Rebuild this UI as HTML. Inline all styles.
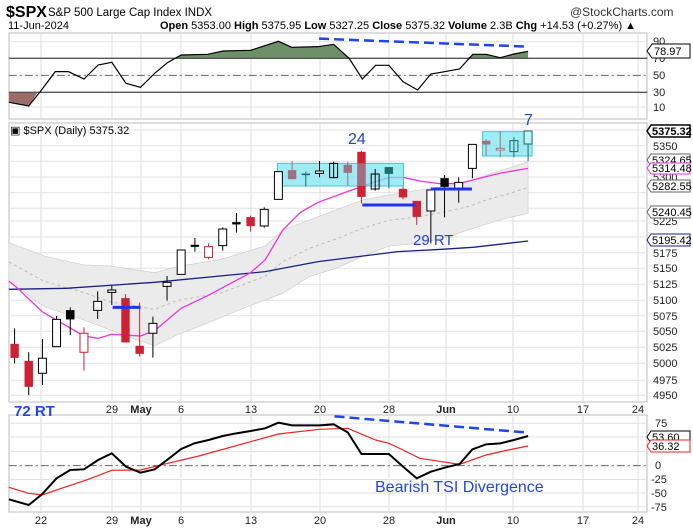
<!DOCTYPE html>
<html><head><meta charset="utf-8"><style>
body{margin:0;background:#fff;}
svg{display:block;font-family:"Liberation Sans",sans-serif;}
</style></head><body>
<svg width="693" height="530" viewBox="0 0 693 530" xmlns="http://www.w3.org/2000/svg">
<rect width="693" height="530" fill="#fff"/>
<!-- header -->
<text x="6" y="17" font-size="16" font-weight="bold">$SPX</text>
<text x="48" y="16" font-size="11.5">S&amp;P 500 Large Cap Index  INDX</text>
<text x="570" y="16" font-size="12" fill="#333">@StockCharts.com</text>
<text x="8" y="29" font-size="11">11-Jun-2024</text>
<text x="160" y="29" font-size="11"><tspan font-weight="bold">Open</tspan> 5353.00 <tspan font-weight="bold">High</tspan> 5375.95 <tspan font-weight="bold">Low</tspan> 5327.25 <tspan font-weight="bold">Close</tspan> 5375.32 <tspan font-weight="bold">Volume</tspan> 2.3B <tspan font-weight="bold">Chg</tspan> +14.53 (+0.27%) ▲</text>

<!-- panel frames -->
<rect x="9" y="33" width="638" height="86" fill="none" stroke="#bbb"/>
<rect x="9" y="123" width="638" height="279" fill="none" stroke="#bbb"/>
<rect x="9" y="415" width="638" height="97" fill="none" stroke="#bbb"/>

<!-- vertical grid -->
<g stroke="#ddd" stroke-width="1">
<line x1="41" y1="33" x2="41" y2="119"/><line x1="112" y1="33" x2="112" y2="119"/><line x1="141" y1="33" x2="141" y2="119"/><line x1="181" y1="33" x2="181" y2="119"/><line x1="251" y1="33" x2="251" y2="119"/><line x1="320" y1="33" x2="320" y2="119"/><line x1="389" y1="33" x2="389" y2="119"/><line x1="446" y1="33" x2="446" y2="119"/><line x1="513" y1="33" x2="513" y2="119"/><line x1="583" y1="33" x2="583" y2="119"/><line x1="638" y1="33" x2="638" y2="119"/>
<line x1="41" y1="123" x2="41" y2="402"/><line x1="112" y1="123" x2="112" y2="402"/><line x1="141" y1="123" x2="141" y2="402"/><line x1="181" y1="123" x2="181" y2="402"/><line x1="251" y1="123" x2="251" y2="402"/><line x1="320" y1="123" x2="320" y2="402"/><line x1="389" y1="123" x2="389" y2="402"/><line x1="446" y1="123" x2="446" y2="402"/><line x1="513" y1="123" x2="513" y2="402"/><line x1="583" y1="123" x2="583" y2="402"/><line x1="638" y1="123" x2="638" y2="402"/>
<line x1="41" y1="415" x2="41" y2="512"/><line x1="112" y1="415" x2="112" y2="512"/><line x1="141" y1="415" x2="141" y2="512"/><line x1="181" y1="415" x2="181" y2="512"/><line x1="251" y1="415" x2="251" y2="512"/><line x1="320" y1="415" x2="320" y2="512"/><line x1="389" y1="415" x2="389" y2="512"/><line x1="446" y1="415" x2="446" y2="512"/><line x1="513" y1="415" x2="513" y2="512"/><line x1="583" y1="415" x2="583" y2="512"/><line x1="638" y1="415" x2="638" y2="512"/>
</g>
<!-- horizontal grid main -->
<g stroke="#e2e2e2">
<line x1="9" y1="130" x2="647" y2="130"/><line x1="9" y1="145.7" x2="647" y2="145.7"/><line x1="9" y1="161.3" x2="647" y2="161.3"/><line x1="9" y1="177" x2="647" y2="177"/><line x1="9" y1="192.6" x2="647" y2="192.6"/><line x1="9" y1="208.3" x2="647" y2="208.3"/><line x1="9" y1="221" x2="647" y2="221"/><line x1="9" y1="237" x2="647" y2="237"/><line x1="9" y1="252.7" x2="647" y2="252.7"/><line x1="9" y1="268.3" x2="647" y2="268.3"/><line x1="9" y1="284.3" x2="647" y2="284.3"/><line x1="9" y1="300.3" x2="647" y2="300.3"/><line x1="9" y1="315.7" x2="647" y2="315.7"/><line x1="9" y1="331.3" x2="647" y2="331.3"/><line x1="9" y1="347.3" x2="647" y2="347.3"/><line x1="9" y1="363.3" x2="647" y2="363.3"/><line x1="9" y1="380.3" x2="647" y2="380.3"/><line x1="9" y1="395.3" x2="647" y2="395.3"/>
<line x1="9" y1="423.3" x2="647" y2="423.3"/><line x1="9" y1="437" x2="647" y2="437"/><line x1="9" y1="451.5" x2="647" y2="451.5"/><line x1="9" y1="479.5" x2="647" y2="479.5"/><line x1="9" y1="493" x2="647" y2="493"/><line x1="9" y1="506.7" x2="647" y2="506.7"/>
<line x1="9" y1="41.7" x2="647" y2="41.7"/><line x1="9" y1="107" x2="647" y2="107"/>
</g>

<!-- TOP RSI panel -->
<g transform="scale(0.4419,0.3333)">
<polygon fill="#6f8f6a" stroke="none" points="395,175 410,165 470,163 505,153 567,151 630,124 660,142 720,140 755,133 790,175"/>
<polygon fill="#6f8f6a" stroke="none" points="1058,175 1070,163 1100,163 1132,173 1163,162 1195,154 1195,175"/>
<polygon fill="#9e6b6b" stroke="none" points="20,277 20,307 65,318 85,277"/>
<line x1="20" y1="175" x2="1465" y2="175" stroke="#555" stroke-width="1.3" vector-effect="non-scaling-stroke"/>
<line x1="20" y1="277" x2="1465" y2="277" stroke="#555" stroke-width="1.3" vector-effect="non-scaling-stroke"/>
<line x1="20" y1="226" x2="1465" y2="226" stroke="#666" stroke-dasharray="8,3,2,3" stroke-width="1" vector-effect="non-scaling-stroke"/>
<polyline fill="none" stroke="#000" stroke-width="1.2" vector-effect="non-scaling-stroke" points="20,307 65,318 95,268 125,215 155,215 190,237 222,195 253,187 285,250 318,262 350,220 380,187 410,165 470,163 505,153 567,151 630,124 660,142 720,140 755,133 790,175 820,237 850,196 880,196 912,245 945,270 975,222 1006,215 1040,207 1070,163 1100,163 1132,173 1163,162 1195,154"/>
<line x1="722" y1="116" x2="1195" y2="140" stroke="#2244ee" stroke-width="2.5" stroke-dasharray="10,5" vector-effect="non-scaling-stroke"/>
</g>
<g font-size="11" fill="#222">
<text x="653" y="45">90</text><text x="653" y="62">70</text><text x="653" y="79">50</text><text x="653" y="96">30</text><text x="653" y="111">10</text>
</g>
<polygon points="647,51 652,44 690,44 690,58 652,58" fill="#fff" stroke="#000"/>
<text x="654" y="55" font-size="11">78.97</text>

<!-- MAIN panel -->
<g transform="translate(0,120) scale(0.4419,0.3333)">
<polygon fill="#ebebeb" stroke="#c8c8c8" stroke-width="0.6" vector-effect="non-scaling-stroke" points="20,368 100,408 190,435 250,438 350,458 400,440 500,418 600,378 640,330 700,300 760,270 820,240 880,225 950,210 1000,200 1050,190 1100,165 1150,145 1195,125 1195,280 1130,300 1060,330 1000,355 950,370 880,378 820,410 760,445 700,470 640,520 560,560 450,620 400,645 350,678 300,655 190,600 100,560 20,485"/>
<polyline fill="none" stroke="#bbb" stroke-dasharray="3,3" vector-effect="non-scaling-stroke" points="20,426 100,484 190,518 250,546 350,568 400,542 500,519 600,469 640,425 700,385 760,357 820,325 880,301 950,290 1000,277 1060,260 1100,240 1150,222 1195,202"/>
<polyline fill="none" stroke="#1a2080" stroke-width="1.3" vector-effect="non-scaling-stroke" points="20,508 150,505 350,487 600,455 720,425 900,395 1000,388 1070,382 1195,363"/>
<polyline fill="none" stroke="#ee33dd" stroke-width="1.3" vector-effect="non-scaling-stroke" points="20,483 40,505 95,575 190,648 222,655 253,643 318,648 350,632 410,565 470,527 567,458 600,420 640,330 680,277 720,247 790,213 850,185 880,173 912,172 950,183 1000,192 1040,190 1100,170 1130,160 1195,145"/>
<rect x="628" y="130" width="285" height="68" fill="#7fe6f2" fill-opacity="0.75" stroke="#3cc8dc" vector-effect="non-scaling-stroke"/>
<rect x="1092" y="35" width="112" height="73" fill="#7fe6f2" fill-opacity="0.75" stroke="#3cc8dc" vector-effect="non-scaling-stroke"/>
<g stroke="#000" stroke-width="1" vector-effect="non-scaling-stroke">
<!-- candles: wick then body -->
<line x1="33" y1="625" x2="33" y2="730" vector-effect="non-scaling-stroke"/><rect x="24" y="672" width="18" height="41" fill="#cc2233" stroke="#cc2233"/>
<line x1="65" y1="697" x2="65" y2="825" vector-effect="non-scaling-stroke"/><rect x="56" y="723" width="18" height="77" fill="#cc2233" stroke="#cc2233"/>
<line x1="96" y1="657" x2="96" y2="795" vector-effect="non-scaling-stroke"/><rect x="87" y="715" width="18" height="45" fill="#fff" vector-effect="non-scaling-stroke"/>
<line x1="128" y1="588" x2="128" y2="680" vector-effect="non-scaling-stroke"/><rect x="119" y="598" width="18" height="82" fill="#fff" vector-effect="non-scaling-stroke"/>
<line x1="159" y1="562" x2="159" y2="645" vector-effect="non-scaling-stroke"/><rect x="150" y="571" width="18" height="27" fill="#000"/>
<line x1="190" y1="622" x2="190" y2="752" stroke="#cc2233" vector-effect="non-scaling-stroke"/><rect x="181" y="640" width="18" height="57" fill="#fff" stroke="#cc2233" vector-effect="non-scaling-stroke"/>
<line x1="221" y1="514" x2="221" y2="597" vector-effect="non-scaling-stroke"/><rect x="212" y="544" width="18" height="27" fill="#fff" vector-effect="non-scaling-stroke"/>
<line x1="253" y1="497" x2="253" y2="555" vector-effect="non-scaling-stroke"/><rect x="244" y="510" width="18" height="7" fill="#fff" vector-effect="non-scaling-stroke"/>
<line x1="284" y1="522" x2="284" y2="667" stroke="#cc2233" vector-effect="non-scaling-stroke"/><rect x="275" y="535" width="18" height="132" fill="#cc2233" stroke="#cc2233"/>
<line x1="316" y1="548" x2="316" y2="710" stroke="#cc2233" vector-effect="non-scaling-stroke"/><rect x="307" y="678" width="18" height="23" fill="#cc2233" stroke="#cc2233"/>
<line x1="346" y1="590" x2="346" y2="713" vector-effect="non-scaling-stroke"/><rect x="337" y="610" width="18" height="30" fill="#fff" vector-effect="non-scaling-stroke"/>
<line x1="378" y1="468" x2="378" y2="542" vector-effect="non-scaling-stroke"/><rect x="369" y="487" width="18" height="12" fill="#fff" vector-effect="non-scaling-stroke"/>
<rect x="401" y="390" width="18" height="73" fill="#fff" vector-effect="non-scaling-stroke"/>
<line x1="441" y1="354" x2="441" y2="395" vector-effect="non-scaling-stroke"/><rect x="432" y="375" width="18" height="5" fill="#000"/>
<line x1="472" y1="370" x2="472" y2="418" stroke="#cc2233" vector-effect="non-scaling-stroke"/><rect x="463" y="380" width="18" height="32" fill="#fff" stroke="#cc2233" vector-effect="non-scaling-stroke"/>
<line x1="504" y1="322" x2="504" y2="392" vector-effect="non-scaling-stroke"/><rect x="495" y="327" width="18" height="50" fill="#fff" vector-effect="non-scaling-stroke"/>
<line x1="535" y1="279" x2="535" y2="338" vector-effect="non-scaling-stroke"/><rect x="526" y="307" width="18" height="6" fill="#000"/>
<line x1="567" y1="287" x2="567" y2="335" stroke="#cc2233" vector-effect="non-scaling-stroke"/><rect x="558" y="292" width="18" height="26" fill="#cc2233" stroke="#cc2233"/>
<line x1="598" y1="262" x2="598" y2="323" vector-effect="non-scaling-stroke"/><rect x="589" y="268" width="18" height="50" fill="#fff" vector-effect="non-scaling-stroke"/>
<rect x="621" y="155" width="18" height="83" fill="#fff" vector-effect="non-scaling-stroke"/>
<line x1="661" y1="123" x2="661" y2="178" stroke="#a07080" vector-effect="non-scaling-stroke"/><rect x="652" y="151" width="18" height="26" fill="#a07080" stroke="#a07080"/>
<line x1="692" y1="155" x2="692" y2="200" stroke="#1e6b6b" vector-effect="non-scaling-stroke"/><rect x="683" y="161" width="18" height="4" fill="#1e6b6b" stroke="#1e6b6b"/>
<line x1="723" y1="123" x2="723" y2="172" vector-effect="non-scaling-stroke"/><rect x="714" y="153" width="18" height="7" fill="#fff" vector-effect="non-scaling-stroke"/>
<line x1="755" y1="125" x2="755" y2="175" vector-effect="non-scaling-stroke"/><rect x="746" y="130" width="18" height="43" fill="none" vector-effect="non-scaling-stroke"/>
<line x1="787" y1="125" x2="787" y2="197" stroke="#a07080" vector-effect="non-scaling-stroke"/><rect x="778" y="135" width="18" height="23" fill="#a07080" stroke="#a07080"/>
<line x1="818" y1="93" x2="818" y2="250" stroke="#cc2233" vector-effect="non-scaling-stroke"/><rect x="809" y="96" width="18" height="134" fill="#cc2233" stroke="#cc2233"/>
<rect x="809" y="130" width="18" height="68" fill="#a07080" stroke="none"/>
<line x1="849" y1="147" x2="849" y2="212" vector-effect="non-scaling-stroke"/><rect x="840" y="162" width="18" height="45" fill="none" vector-effect="non-scaling-stroke"/>
<line x1="880" y1="142" x2="880" y2="205" stroke="#1e6b6b" vector-effect="non-scaling-stroke"/><rect x="871" y="142" width="18" height="19" fill="#1e6b6b" stroke="#1e6b6b"/>
<line x1="912" y1="200" x2="912" y2="238" stroke="#cc2233" vector-effect="non-scaling-stroke"/><rect x="903" y="207" width="18" height="25" fill="#cc2233" stroke="#cc2233"/>
<line x1="943" y1="243" x2="943" y2="315" stroke="#cc2233" vector-effect="non-scaling-stroke"/><rect x="934" y="243" width="18" height="47" fill="#cc2233" stroke="#cc2233"/>
<line x1="975" y1="208" x2="975" y2="370" vector-effect="non-scaling-stroke"/><rect x="966" y="210" width="18" height="63" fill="#fff" vector-effect="non-scaling-stroke"/>
<line x1="1006" y1="165" x2="1006" y2="292" vector-effect="non-scaling-stroke"/><rect x="997" y="175" width="18" height="25" fill="#000"/>
<line x1="1038" y1="172" x2="1038" y2="248" vector-effect="non-scaling-stroke"/><rect x="1029" y="187" width="18" height="23" fill="#fff" vector-effect="non-scaling-stroke"/>
<line x1="1069" y1="73" x2="1069" y2="175" vector-effect="non-scaling-stroke"/><rect x="1060" y="73" width="18" height="72" fill="#fff" vector-effect="non-scaling-stroke"/>
<line x1="1100" y1="57" x2="1100" y2="107" stroke="#a07080" vector-effect="non-scaling-stroke"/><rect x="1091" y="63" width="18" height="10" fill="#a07080" stroke="#a07080"/>
<line x1="1132" y1="33" x2="1132" y2="113" stroke="#a07080" vector-effect="non-scaling-stroke"/><rect x="1123" y="85" width="18" height="5" fill="#fff" stroke="#a07080" vector-effect="non-scaling-stroke"/>
<line x1="1163" y1="52" x2="1163" y2="112" stroke="#1e6b6b" vector-effect="non-scaling-stroke"/><rect x="1154" y="62" width="18" height="33" fill="none" stroke="#1e6b6b" vector-effect="non-scaling-stroke"/>
<line x1="1195" y1="33" x2="1195" y2="123" stroke="#1e6b6b" vector-effect="non-scaling-stroke"/><rect x="1186" y="33" width="18" height="39" fill="#bff3f8" stroke="#1e6b6b" vector-effect="non-scaling-stroke"/>
</g>
<g stroke="#2233ee" stroke-width="3" vector-effect="non-scaling-stroke">
<line x1="255" y1="562" x2="318" y2="562" vector-effect="non-scaling-stroke"/>
<line x1="820" y1="255" x2="940" y2="255" vector-effect="non-scaling-stroke"/>
<line x1="975" y1="207" x2="1068" y2="207" vector-effect="non-scaling-stroke"/>
</g>
</g>
<text x="10" y="134" font-size="11">▣ $SPX (Daily) 5375.32</text>
<text x="348" y="144" font-size="16" fill="#2244cc">24</text>
<text x="413" y="245" font-size="15" fill="#2244cc">29 RT</text>
<text x="524" y="125" font-size="16" fill="#2244cc">7</text>

<g font-size="11" fill="#222">
<text x="653" y="150">5350</text><text x="653" y="181">5300</text><text x="653" y="225">5225</text><text x="653" y="257">5175</text><text x="653" y="272">5150</text><text x="653" y="288">5125</text><text x="653" y="304">5100</text><text x="653" y="320">5075</text><text x="653" y="335">5050</text><text x="653" y="351">5025</text><text x="653" y="367">5000</text><text x="653" y="384">4975</text><text x="653" y="399">4950</text>
</g>
<g font-size="11">
<polygon points="647,131 651,125 690,125 690,137 651,137" fill="#fff" stroke="#000" stroke-width="1.5"/><text x="652" y="135" font-weight="bold">5375.32</text>
<polygon points="647,160 651,154 690,154 690,166 651,166" fill="#fff" stroke="#666"/><text x="652" y="164">5324.65</text>
<polygon points="647,168 651,163 690,163 690,174 651,174" fill="#fff" stroke="#ee33dd"/><text x="652" y="172">5314.48</text>
<polygon points="647,186 651,180 690,180 690,192 651,192" fill="#fff" stroke="#666"/><text x="652" y="190">5282.55</text>
<polygon points="647,212 651,206 690,206 690,218 651,218" fill="#fff" stroke="#666"/><text x="652" y="216">5240.45</text>
<polygon points="647,240 651,234 690,234 690,246 651,246" fill="#fff" stroke="#1a2080"/><text x="652" y="244">5195.42</text>
</g>

<!-- date labels -->
<g font-size="11" fill="#222" text-anchor="middle">
<text x="112" y="413">29</text><text x="141" y="413" font-weight="bold">May</text><text x="181" y="413">6</text><text x="251" y="413">13</text><text x="320" y="413">20</text><text x="389" y="413">28</text><text x="446" y="413" font-weight="bold">Jun</text><text x="513" y="413">10</text><text x="583" y="413">17</text><text x="638" y="413">24</text>
<text x="41" y="524">22</text><text x="112" y="524">29</text><text x="141" y="524" font-weight="bold">May</text><text x="181" y="524">6</text><text x="251" y="524">13</text><text x="320" y="524">20</text><text x="389" y="524">28</text><text x="446" y="524" font-weight="bold">Jun</text><text x="513" y="524">10</text><text x="583" y="524">17</text><text x="638" y="524">24</text>
</g>
<text x="14" y="416" font-size="15" font-weight="bold" fill="#2244ee">72 RT</text>

<!-- TSI panel -->
<g transform="translate(0,400) scale(0.4419,0.3333)">
<line x1="20" y1="197" x2="1465" y2="197" stroke="#666" stroke-dasharray="8,3,2,3" vector-effect="non-scaling-stroke"/>
<polyline fill="none" stroke="#ee2222" stroke-width="1.2" vector-effect="non-scaling-stroke" points="20,262 65,280 95,285 150,260 200,238 253,211 318,210 380,190 450,168 567,125 630,102 723,88 787,85 850,120 880,130 912,150 950,175 1000,185 1040,193 1100,165 1150,150 1195,138"/>
<polyline fill="none" stroke="#000" stroke-width="2" vector-effect="non-scaling-stroke" points="20,298 65,315 95,283 128,235 159,210 190,208 222,180 253,160 285,200 318,218 350,208 380,178 410,147 440,130 472,120 504,108 535,100 567,93 600,85 630,68 661,76 723,76 755,73 787,97 818,162 880,162 912,200 943,235 975,215 1006,203 1040,192 1069,148 1100,133 1132,130 1163,120 1195,108"/>
<line x1="757" y1="49" x2="1195" y2="98" stroke="#2244ee" stroke-width="2.5" stroke-dasharray="10,5" vector-effect="non-scaling-stroke"/>
</g>
<text x="375" y="492" font-size="16" fill="#2244ee">Bearish TSI Divergence</text>
<g font-size="11" fill="#222">
<text x="655" y="427">75</text><text x="655" y="469">0</text><text x="651" y="483">-25</text><text x="651" y="497">-50</text><text x="651" y="511">-75</text>
</g>
<polygon points="647,437 651,431 690,431 690,443 651,443" fill="#fff" stroke="#000"/><text x="652" y="441" font-size="11">53.60</text>
<polygon points="647,446 651,440 690,440 690,452 651,452" fill="#fff" stroke="#ee2222"/><text x="652" y="450" font-size="11">36.32</text>
</svg>
</body></html>
